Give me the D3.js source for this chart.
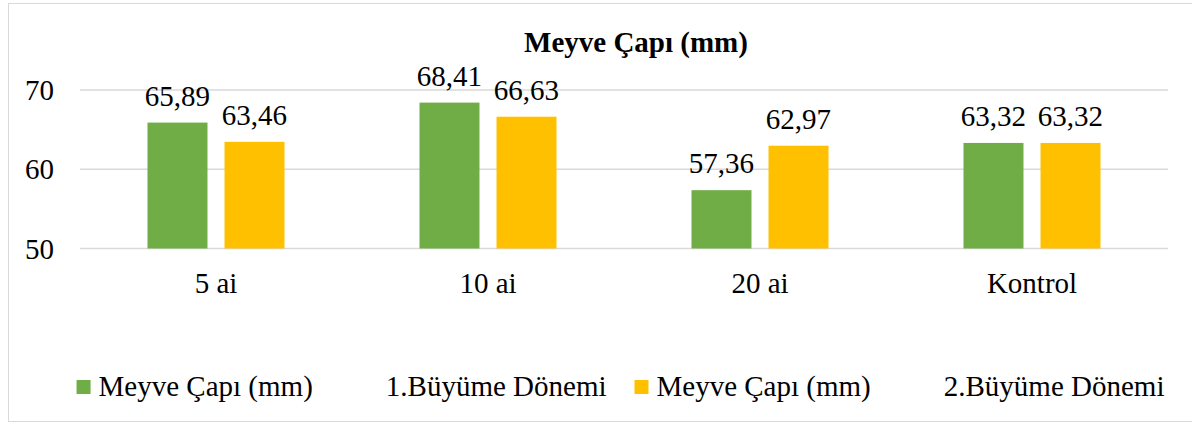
<!DOCTYPE html>
<html>
<head>
<meta charset="utf-8">
<script src="https://cdn.jsdelivr.net/npm/d3@7"></script>
<style>
  body { margin: 0; background: #fff; }
  svg text { font-family: "Liberation Serif", "Times New Roman", Times, serif; fill: #000; }
</style>
</head>
<body>
<div id="chart"></div>
<script>
const categories = ["5 ai", "10 ai", "20 ai", "Kontrol"];
const seriesNames = ["Meyve Çapı (mm)", "Meyve Çapı (mm)"];
const seriesPeriods = ["1.Büyüme Dönemi", "2.Büyüme Dönemi"];
const period1 = [65.89, 68.41, 57.36, 63.32];
const period2 = [63.46, 66.63, 62.97, 63.32];
const yTicks = [50, 60, 70];
const colors = ["#70ad47", "#ffc000"];

const W = 1192, H = 424;
const plot = { left: 80, right: 1168, top: 90, bottom: 248.5 };
const serif = "'Liberation Serif', 'Times New Roman', Times, serif";

const svg = d3.select("#chart").append("svg")
    .attr("width", W)
    .attr("height", H)
    .attr("font-family", serif);

// chart border
svg.append("rect")
    .attr("x", 8.5).attr("y", 3.5)
    .attr("width", 1190).attr("height", 418)
    .attr("fill", "none")
    .attr("stroke", "#d9d9d9")
    .attr("stroke-width", 1);

const x0 = d3.scaleBand()
    .domain(categories)
    .range([plot.left, plot.right])
    .paddingInner(0.4963)
    .paddingOuter(0.24815);

const x1 = d3.scaleBand()
    .domain([0, 1])
    .range([0, x0.bandwidth()])
    .paddingInner(0.221);

const y = d3.scaleLinear()
    .domain([50, 70])
    .range([plot.bottom, plot.top]);

// gridlines
svg.append("g")
    .selectAll("line")
    .data(yTicks)
    .join("line")
    .attr("x1", plot.left)
    .attr("x2", plot.right)
    .attr("y1", d => y(d))
    .attr("y2", d => y(d))
    .attr("stroke", "#d9d9d9")
    .attr("stroke-width", 1.5);

// y tick labels
svg.append("g")
    .selectAll("text")
    .data(yTicks)
    .join("text")
    .attr("x", 54)
    .attr("y", d => y(d))
    .attr("dy", "0.35em")
    .attr("text-anchor", "end")
    .style("font-family", serif)
    .style("font-size", "29px")
    .text(d => d);

// title
svg.append("text")
    .attr("x", (plot.left + plot.right) / 2 + 12)
    .attr("y", 52)
    .attr("text-anchor", "middle")
    .style("font-family", serif)
    .style("font-size", "29px")
    .style("font-weight", "bold")
    .text("Meyve Çapı (mm)");

const rows = categories.map((c, i) => ({ cat: c, vals: [period1[i], period2[i]] }));

const groups = svg.append("g")
    .selectAll("g")
    .data(rows)
    .join("g")
    .attr("transform", d => `translate(${x0(d.cat)},0)`);

groups.selectAll("rect")
    .data(d => d.vals.map((v, s) => ({ v, s })))
    .join("rect")
    .attr("x", d => x1(d.s))
    .attr("width", x1.bandwidth())
    .attr("y", d => y(d.v))
    .attr("height", d => y(50) - y(d.v))
    .attr("fill", d => colors[d.s]);

groups.selectAll("text.val")
    .data(d => d.vals.map((v, s) => ({ v, s })))
    .join("text")
    .attr("class", "val")
    .attr("x", d => x1(d.s) + x1.bandwidth() / 2)
    .attr("y", d => y(d.v) - 17)
    .attr("text-anchor", "middle")
    .style("font-family", serif)
    .style("font-size", "29px")
    .text(d => d.v.toFixed(2).replace(".", ","));

// category labels
svg.append("g")
    .selectAll("text")
    .data(categories)
    .join("text")
    .attr("x", d => x0(d) + x0.bandwidth() / 2)
    .attr("y", 293)
    .attr("text-anchor", "middle")
    .style("font-family", serif)
    .style("font-size", "29px")
    .text(d => d);

// legend
const legend = svg.append("g");
let lx = 0;
seriesNames.forEach((name, i) => {
    const item = legend.append("g").attr("transform", `translate(${lx},0)`);
    item.append("rect")
        .attr("x", 0).attr("y", 380)
        .attr("width", 14).attr("height", 14)
        .attr("fill", colors[i]);
    const t1 = item.append("text")
        .attr("x", 22).attr("y", 396)
        .style("font-family", serif)
        .style("font-size", "29px")
        .text(name);
    const w1 = t1.node().getComputedTextLength();
    const t2 = item.append("text")
        .attr("x", 22 + w1 + 73).attr("y", 396)
        .style("font-family", serif)
        .style("font-size", "29px")
        .text(seriesPeriods[i]);
    const w2 = t2.node().getComputedTextLength();
    lx += 22 + w1 + 73 + w2 + 28;
});
const legendWidth = lx - 28;
legend.attr("transform", `translate(${620.5 - legendWidth / 2},0)`);
</script>
</body>
</html>
